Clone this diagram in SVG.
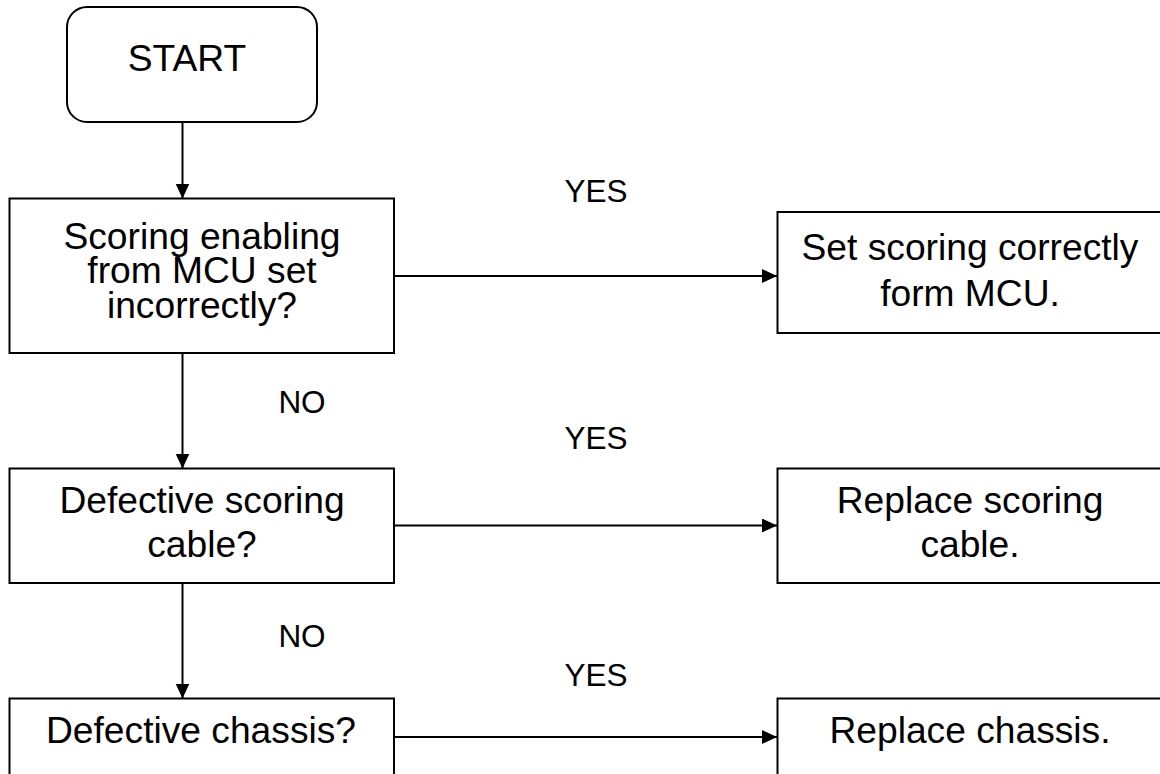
<svg xmlns="http://www.w3.org/2000/svg" width="1160" height="774" viewBox="0 0 1160 774">
<style>
.box{fill:#fff;stroke:#000;stroke-width:2}
.t{font-family:"Liberation Sans",Arial,sans-serif;font-size:37.2px;fill:#000;text-anchor:middle}
.l{font-family:"Liberation Sans",Arial,sans-serif;font-size:31.5px;fill:#000;text-anchor:middle}
.c{fill:none;stroke:#000;stroke-width:2;marker-end:url(#ah)}
</style>
<defs>
<marker id="ah" markerUnits="userSpaceOnUse" markerWidth="16" markerHeight="16" refX="15" refY="7" orient="auto">
<path d="M0,0 L15,7 L0,14 Z" fill="#000"/>
</marker>
</defs>
<rect width="1160" height="774" fill="#fff"/>
<g id="connectors">
<line class="c" x1="182.5" y1="122" x2="182.5" y2="198.5"/>
<line class="c" x1="394" y1="276" x2="777" y2="276"/>
<line class="c" x1="182.5" y1="353" x2="182.5" y2="468.5"/>
<line class="c" x1="394" y1="525.5" x2="777" y2="525.5"/>
<line class="c" x1="182.5" y1="583" x2="182.5" y2="698.5"/>
<line class="c" x1="394" y1="737" x2="777" y2="737"/>
</g>
<g id="labels">
<text class="l" x="596" y="202">YES</text>
<text class="l" x="302" y="413">NO</text>
<text class="l" x="596" y="449">YES</text>
<text class="l" x="302" y="647">NO</text>
<text class="l" x="596" y="686">YES</text>
</g>
<g id="start">
<rect class="box" x="67" y="7" width="250" height="115" rx="20"/>
<text class="t" x="187" y="71">START</text>
</g>
<g id="q1">
<rect class="box" x="9.5" y="198.5" width="384.5" height="154.5"/>
<text class="t" x="202" y="248.5">Scoring enabling</text>
<text class="t" x="202" y="283">from MCU set</text>
<text class="t" x="202" y="317.5">incorrectly?</text>
</g>
<g id="a1">
<rect class="box" x="777.5" y="212" width="386" height="121"/>
<text class="t" x="970" y="260">Set scoring correctly</text>
<text class="t" x="970" y="306">form MCU.</text>
</g>
<g id="q2">
<rect class="box" x="9.5" y="468.5" width="384.5" height="114.5"/>
<text class="t" x="202" y="513">Defective scoring</text>
<text class="t" x="202" y="557">cable?</text>
</g>
<g id="a2">
<rect class="box" x="777.5" y="468.5" width="386" height="114.5"/>
<text class="t" x="970" y="513">Replace scoring</text>
<text class="t" x="970" y="557">cable.</text>
</g>
<g id="q3">
<rect class="box" x="9.5" y="698.5" width="384.5" height="90"/>
<text class="t" x="201" y="743">Defective chassis?</text>
</g>
<g id="a3">
<rect class="box" x="777.5" y="698.5" width="386" height="90"/>
<text class="t" x="970" y="743">Replace chassis.</text>
</g>
</svg>
